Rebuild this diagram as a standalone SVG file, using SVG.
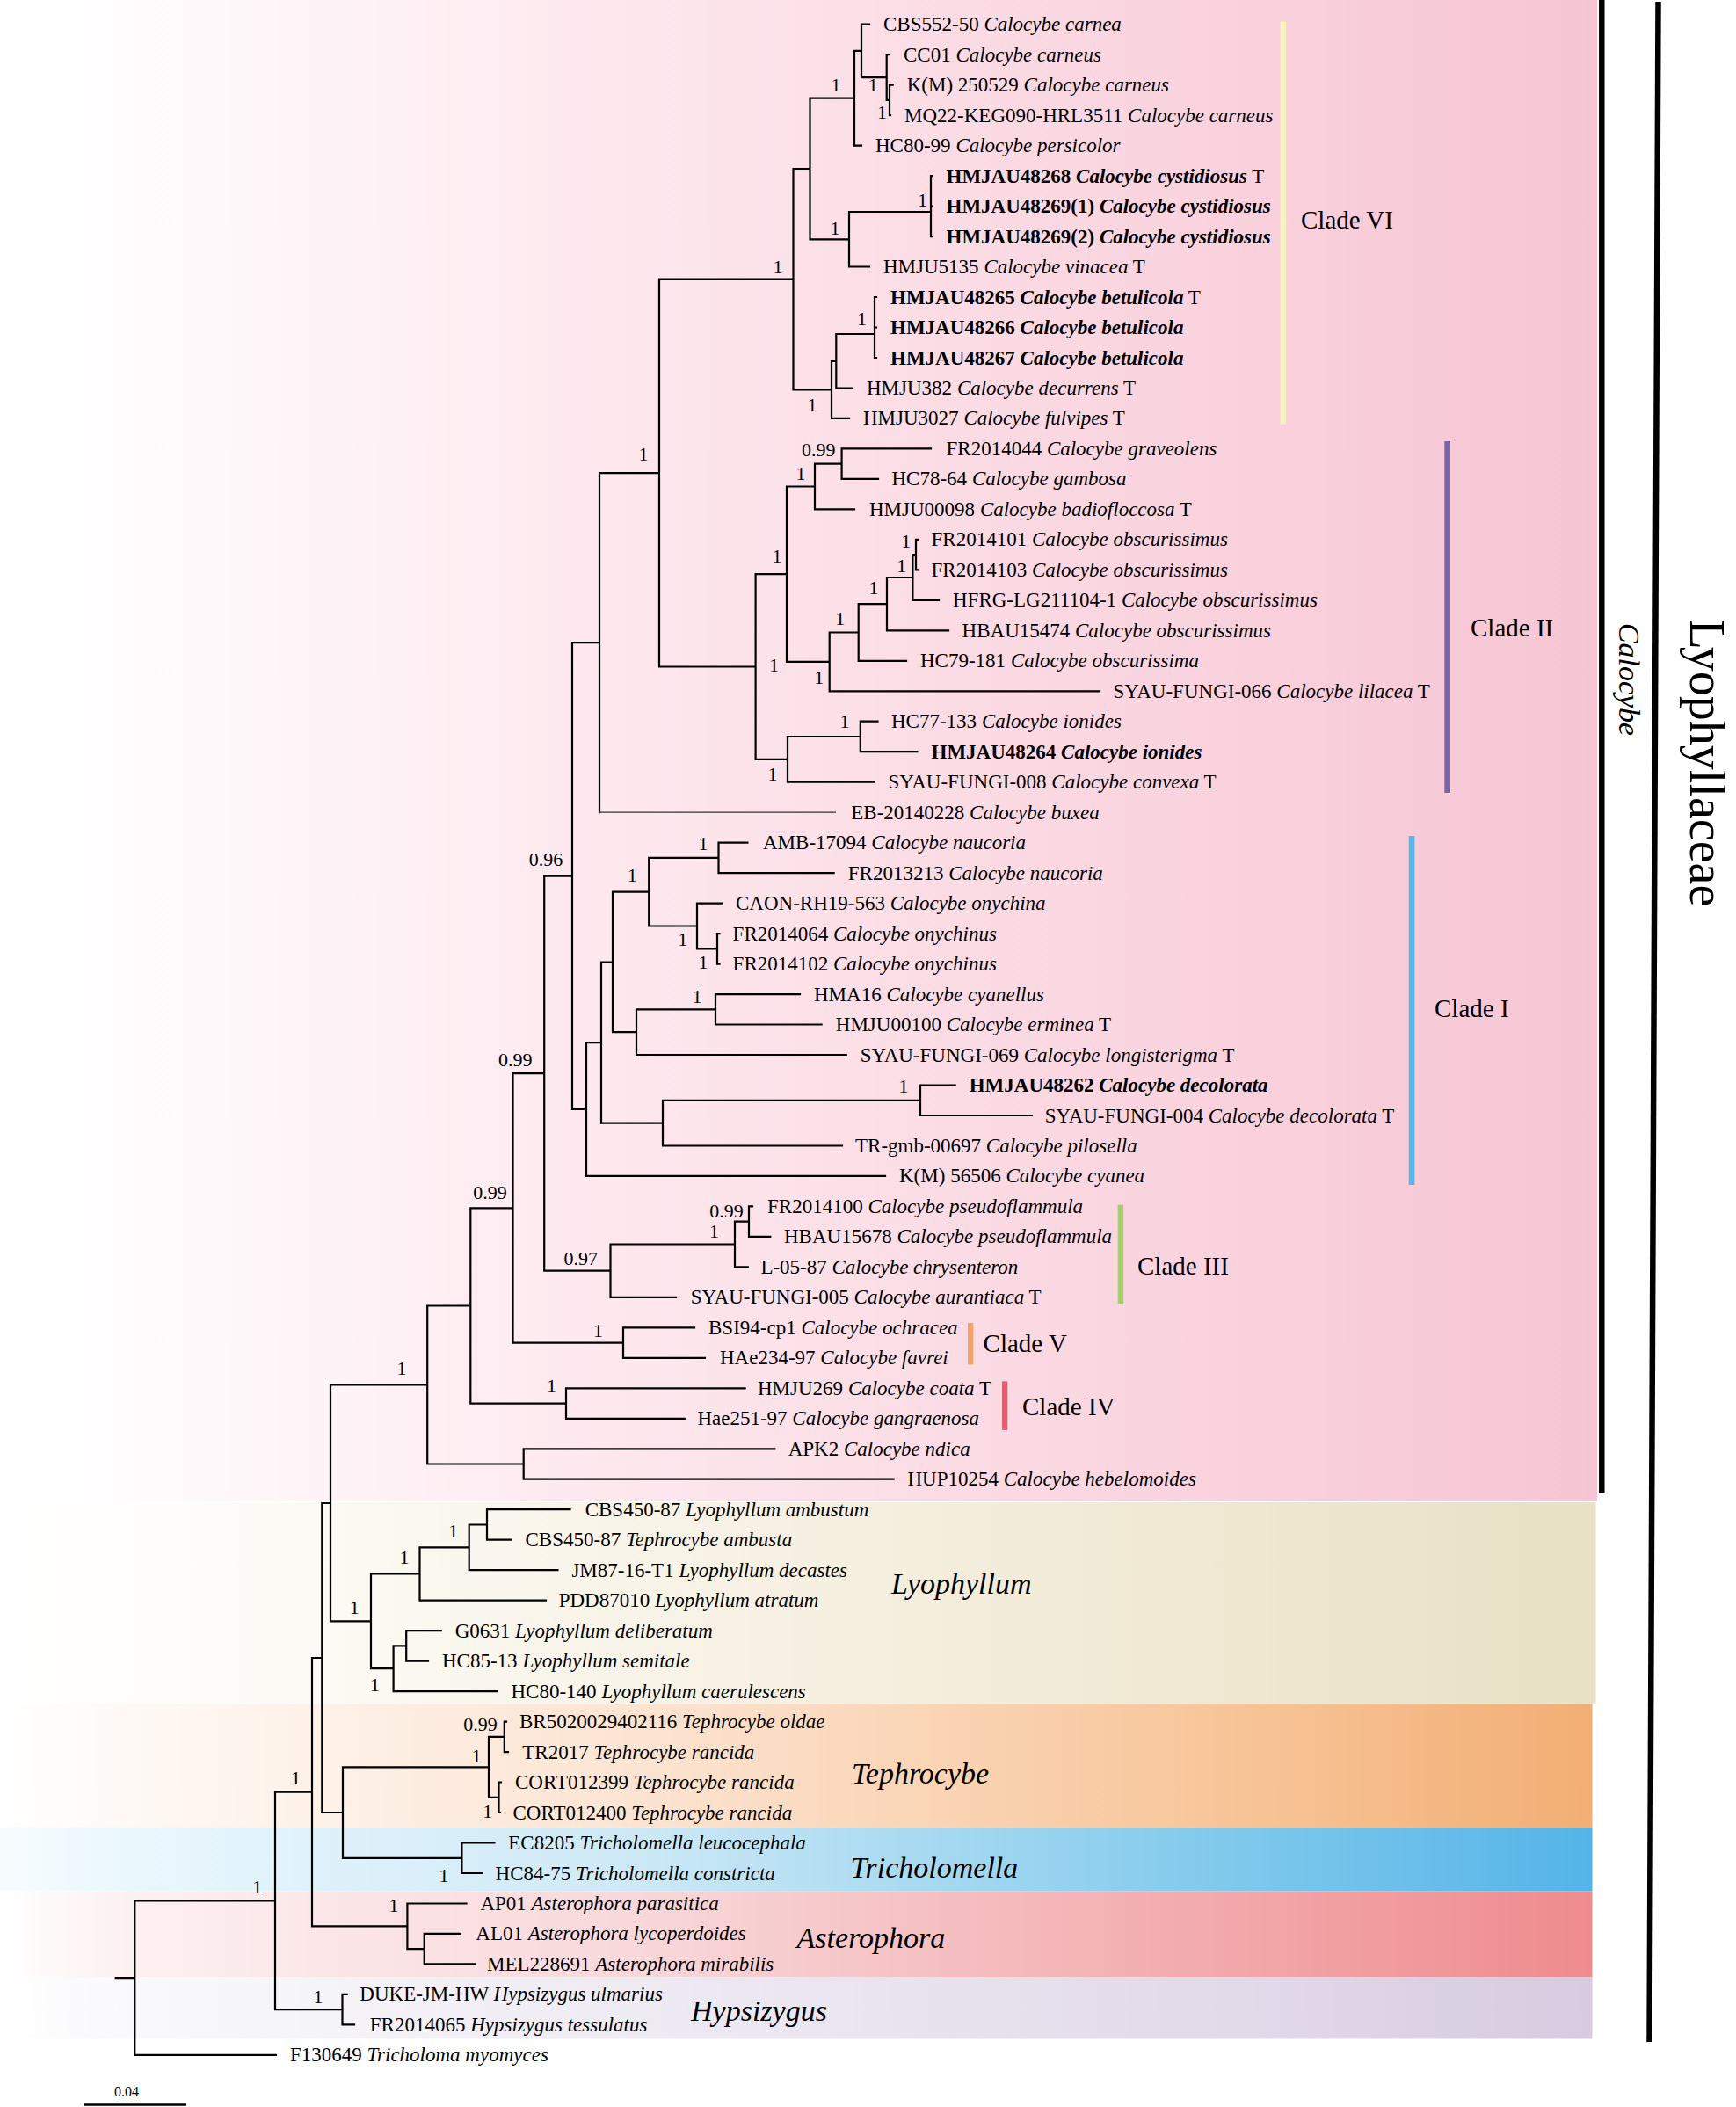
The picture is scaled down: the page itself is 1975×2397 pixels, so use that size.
<svg xmlns="http://www.w3.org/2000/svg" width="1975" height="2397" viewBox="0 0 1975 2397">
<style>
.t{font-family:"Liberation Serif","Times New Roman",serif;font-size:23px;fill:#000}
.i{font-style:italic}
.b{font-weight:bold}
.s{font-family:"Liberation Serif","Times New Roman",serif;font-size:22px;text-anchor:middle;fill:#000}
.cl{font-family:"Liberation Serif","Times New Roman",serif;font-size:29px;fill:#000}
.g{font-family:"Liberation Serif","Times New Roman",serif;font-size:34px;font-style:italic;fill:#000}
.br{fill:none;stroke:#000;stroke-width:2.2;stroke-linecap:square}
.thin{fill:none;stroke:#333;stroke-width:1.3}
</style>
<defs>
<linearGradient id="gCalo" gradientUnits="userSpaceOnUse" x1="0" y1="0" x2="1817" y2="0">
<stop offset="0" stop-color="#ffffff"/><stop offset="0.03" stop-color="#ffffff"/><stop offset="0.38" stop-color="#fde8ee"/><stop offset="0.8" stop-color="#f9d0dc"/><stop offset="1" stop-color="#f6c5d4"/>
</linearGradient>
<linearGradient id="gLyo" gradientUnits="userSpaceOnUse" x1="0" y1="0" x2="1816" y2="0">
<stop offset="0" stop-color="#ffffff"/><stop offset="0.1" stop-color="#fefdfa"/><stop offset="0.45" stop-color="#f7f2e5"/><stop offset="0.78" stop-color="#efe7d0"/><stop offset="1" stop-color="#e8e1c5"/>
</linearGradient>
<linearGradient id="gTeph" gradientUnits="userSpaceOnUse" x1="0" y1="0" x2="1812" y2="0">
<stop offset="0" stop-color="#ffffff"/><stop offset="0.08" stop-color="#fef9f5"/><stop offset="0.4" stop-color="#fce4d2"/><stop offset="0.78" stop-color="#f7c497"/><stop offset="1" stop-color="#f2ae74"/>
</linearGradient>
<linearGradient id="gTri" gradientUnits="userSpaceOnUse" x1="0" y1="0" x2="1812" y2="0">
<stop offset="0" stop-color="#f7fcfe"/><stop offset="0.08" stop-color="#eaf7fd"/><stop offset="0.4" stop-color="#cde9f6"/><stop offset="0.78" stop-color="#7ec8eb"/><stop offset="1" stop-color="#54b4e8"/>
</linearGradient>
<linearGradient id="gAst" gradientUnits="userSpaceOnUse" x1="0" y1="0" x2="1812" y2="0">
<stop offset="0" stop-color="#ffffff"/><stop offset="0.08" stop-color="#fdf0f1"/><stop offset="0.4" stop-color="#f8d8da"/><stop offset="0.78" stop-color="#f2a7a9"/><stop offset="1" stop-color="#ee8b8e"/>
</linearGradient>
<linearGradient id="gHyp" gradientUnits="userSpaceOnUse" x1="0" y1="0" x2="1812" y2="0">
<stop offset="0" stop-color="#ffffff"/><stop offset="0.06" stop-color="#fafafc"/><stop offset="0.4" stop-color="#eeebf3"/><stop offset="0.78" stop-color="#e2d9e9"/><stop offset="1" stop-color="#d6cbe0"/>
</linearGradient>
</defs>
<rect width="1975" height="2397" fill="#ffffff"/>
<g id="bands">
<rect x="0" y="0" width="1817" height="1708" fill="url(#gCalo)"/>
<rect x="0" y="1709" width="1815.5" height="229.5" fill="url(#gLyo)"/>
<rect x="0" y="1938.5" width="1811.5" height="141" fill="url(#gTeph)"/>
<rect x="0" y="2079.5" width="1811.5" height="72" fill="url(#gTri)"/>
<rect x="0" y="2151.5" width="1811.5" height="98" fill="url(#gAst)"/>
<rect x="0" y="2249.5" width="1811.5" height="70" fill="url(#gHyp)"/>
</g>
<g id="clade-bars">
<rect x="1456.5" y="24.5" width="6.5" height="458" fill="#f7f1bd"/>
<rect x="1643.3" y="502" width="6.7" height="400" fill="#7b64a8"/>
<rect x="1602.7" y="951" width="6.7" height="397" fill="#5ab6e8"/>
<rect x="1271.7" y="1370.7" width="6.5" height="113.3" fill="#a6cd6c"/>
<rect x="1101" y="1505" width="6.3" height="47.5" fill="#f1a46a"/>
<rect x="1140" y="1571.4" width="6.3" height="55.4" fill="#e65a72"/>
</g>
<g id="side-lines">
<line x1="1822.3" y1="0" x2="1822.3" y2="1699" stroke="#000" stroke-width="6.5"/>
<line x1="1886.5" y1="2" x2="1876.5" y2="2323" stroke="#000" stroke-width="6.5"/>
</g>
<g id="connectors">
<path class="br" d="
M1012,96.7V131.1 M1012,96.7H1015.7 M1012,131.1H1013
M1008.7,62.2V113.9 M1008.7,62.2H1012 M1008.7,113.9H1012
M980,27.7V88.1 M980,27.7H989 M980,88.1H1008.7
M972,57.9V165.6 M972,57.9H980 M972,165.6H980
M1059,200.1V269.1 M1059,200.1H1060 M1059,234.6H1060 M1059,269.1H1060
M966,241V303.5 M966,241H1059 M966,303.5H989
M921.5,111.7V272.3 M921.5,111.7H972 M921.5,272.3H966
M995,338V407 M995,338H997 M995,372.5H997 M995,407H997
M951.3,380V441.5 M951.3,380H995 M951.3,441.5H970
M946,410.8V475.9 M946,410.8H951.3 M946,475.9H966
M902.5,192V443.3 M902.5,192H921.5 M902.5,443.3H946
M957.6,510.4V544.9 M957.6,510.4H1059 M957.6,544.9H999
M927,527.7V579.4 M927,527.7H957.6 M927,579.4H972
M1042,613.9V648.3 M1042,613.9H1044 M1042,648.3H1044
M1038.4,631.1V682.8 M1038.4,631.1H1042 M1038.4,682.8H1068
M1009,657V717.3 M1009,657H1038.4 M1009,717.3H1079
M976.7,687.1V751.8 M976.7,687.1H1009 M976.7,751.8H1031
M943.7,719.5V786.3 M943.7,719.5H976.7 M943.7,786.3H1251
M895,553.5V752.9 M895,553.5H927 M895,752.9H943.7
M978.8,820.7V855.2 M978.8,820.7H998.5 M978.8,855.2H1043.4
M896,838V889.7 M896,838H978.8 M896,889.7H994
M859.6,653.2V863.8 M859.6,653.2H895 M859.6,863.8H896
M750,317.7V758.5 M750,317.7H902.5 M750,758.5H859.6
M682,538.1V924.2 M682,538.1H750
M817.5,958.7V993.1 M817.5,958.7H850.4 M817.5,993.1H948.6
M816,1062.1V1096.6 M816,1062.1H818.5 M816,1096.6H818.5
M793,1027.6V1079.4 M793,1027.6H821 M793,1079.4H816
M738.2,975.9V1053.5 M738.2,975.9H817.5 M738.2,1053.5H793
M814,1131.1V1165.5 M814,1131.1H910 M814,1165.5H934.6
M724,1148.3V1200 M724,1148.3H814 M724,1200H962.7
M697,1014.7V1174.2 M697,1014.7H738.2 M697,1174.2H724
M1047,1234.5V1269 M1047,1234.5H1086.7 M1047,1269H1174
M754,1251.8V1303.5 M754,1251.8H1047 M754,1303.5H958
M684,1094.5V1277.6 M684,1094.5H697 M684,1277.6H754
M667,1186.1V1337.9 M667,1186.1H684 M667,1337.9H1007
M651,731.2V1262 M651,731.2H682 M651,1262H667
M852,1372.4V1406.9 M852,1372.4H856 M852,1406.9H876.3
M836,1389.7V1441.4 M836,1389.7H852 M836,1441.4H850.8
M694.5,1415.5V1475.9 M694.5,1415.5H836 M694.5,1475.9H769
M619.2,996.6V1445.7 M619.2,996.6H651 M619.2,1445.7H694.5
M709,1510.3V1544.8 M709,1510.3H790 M709,1544.8H802
M583.5,1221.2V1527.6 M583.5,1221.2H619.2 M583.5,1527.6H709
M644,1579.3V1613.8 M644,1579.3H847.6 M644,1613.8H778.7
M535.3,1374.4V1596.6 M535.3,1374.4H583.5 M535.3,1596.6H644
M595.7,1648.3V1682.7 M595.7,1648.3H881.4 M595.7,1682.7H1016.6
M486.2,1485.5V1665.5 M486.2,1485.5H535.3 M486.2,1665.5H595.7
M554,1717.2V1751.7 M554,1717.2H648.5 M554,1751.7H581.5
M533.7,1734.5V1786.2 M533.7,1734.5H554 M533.7,1786.2H634.4
M477.5,1760.3V1820.7 M477.5,1760.3H533.7 M477.5,1820.7H621
M462.2,1855.1V1889.6 M462.2,1855.1H501.8 M462.2,1889.6H487
M447.6,1872.4V1924.1 M447.6,1872.4H462.2 M447.6,1924.1H565.6
M422,1790.5V1898.2 M422,1790.5H477.5 M422,1898.2H447.6
M376,1575.5V1844.4 M376,1575.5H486.2 M376,1844.4H422
M573.8,1958.6V1993.1 M573.8,1958.6H576 M573.8,1993.1H578
M567.5,2027.5V2062 M567.5,2027.5H570 M567.5,2062H569
M556,1975.9V2044.8 M556,1975.9H573.8 M556,2044.8H567.5
M525.4,2096.5V2131 M525.4,2096.5H562.4 M525.4,2131H548.3
M390,2010.3V2113.8 M390,2010.3H556 M390,2113.8H525.4
M366.3,1710V2062 M366.3,1710H376 M366.3,2062H390
M482.7,2199.9V2234.4 M482.7,2199.9H524 M482.7,2234.4H540
M463.4,2165.5V2217.2 M463.4,2165.5H530.5 M463.4,2217.2H482.7
M355,1886V2191.3 M355,1886H366.3 M355,2191.3H463.4
M389.5,2268.9V2303.4 M389.5,2268.9H394.6 M389.5,2303.4H403
M313,2038.7V2286.2 M313,2038.7H355 M313,2286.2H389.5
M153.3,2162.4V2337.9 M153.3,2162.4H313 M153.3,2337.9H314
M131.7,2250.2H153.3"/>
<path class="thin" d="M682,924.2H951"/>
</g>
<g id="support">
<text class="s" x="993.2" y="104.4">1</text>
<text class="s" x="1003.6" y="134.8">1</text>
<text class="s" x="951" y="104.4">1</text>
<text class="s" x="1049.5" y="234.5">1</text>
<text class="s" x="950" y="266.5">1</text>
<text class="s" x="885" y="311.2">1</text>
<text class="s" x="980.6" y="369.5">1</text>
<text class="s" x="924" y="468.2">1</text>
<text class="s" x="732" y="523.5">1</text>
<text class="s" x="931.2" y="518.5">0.99</text>
<text class="s" x="911" y="545.5">1</text>
<text class="s" x="884" y="639.5">1</text>
<text class="s" x="880.6" y="763.5">1</text>
<text class="s" x="1030.7" y="623.3">1</text>
<text class="s" x="1025.8" y="651">1</text>
<text class="s" x="994" y="675.5">1</text>
<text class="s" x="955.7" y="711.1">1</text>
<text class="s" x="931.8" y="778.3">1</text>
<text class="s" x="961" y="828.1">1</text>
<text class="s" x="879" y="888.2">1</text>
<text class="s" x="621" y="984.5">0.96</text>
<text class="s" x="800" y="966.5">1</text>
<text class="s" x="719.3" y="1002.9">1</text>
<text class="s" x="776.8" y="1076.1">1</text>
<text class="s" x="800" y="1101.5">1</text>
<text class="s" x="793" y="1141.3">1</text>
<text class="s" x="1028" y="1243.2">1</text>
<text class="s" x="586.3" y="1212.5">0.99</text>
<text class="s" x="557.4" y="1364">0.99</text>
<text class="s" x="826.5" y="1385.3">0.99</text>
<text class="s" x="812.5" y="1408.2">1</text>
<text class="s" x="660.7" y="1438.9">0.97</text>
<text class="s" x="680.5" y="1521.1">1</text>
<text class="s" x="627.5" y="1584.3">1</text>
<text class="s" x="457" y="1564.2">1</text>
<text class="s" x="403.3" y="1835.5">1</text>
<text class="s" x="460" y="1778.9">1</text>
<text class="s" x="515.8" y="1749">1</text>
<text class="s" x="426.5" y="1924">1</text>
<text class="s" x="546.4" y="1968.5">0.99</text>
<text class="s" x="542" y="2004.5">1</text>
<text class="s" x="554.7" y="2068.2">1</text>
<text class="s" x="505" y="2140.5">1</text>
<text class="s" x="448" y="2175">1</text>
<text class="s" x="336.5" y="2029.5">1</text>
<text class="s" x="362" y="2278.5">1</text>
<text class="s" x="292.7" y="2153.5">1</text>
</g>
<g id="taxa">
<g id="tx01"><text class="t" x="1005" y="35.2">CBS552-50 <tspan class="i">Calocybe carnea</tspan></text></g>
<g id="tx02"><text class="t" x="1028" y="69.7">CC01 <tspan class="i">Calocybe carneus</tspan></text></g>
<g id="tx03"><text class="t" x="1031.7" y="104.2">K(M) 250529 <tspan class="i">Calocybe carneus</tspan></text></g>
<g id="tx04"><text class="t" x="1029" y="138.6">MQ22-KEG090-HRL3511 <tspan class="i">Calocybe carneus</tspan></text></g>
<g id="tx05"><text class="t" x="996" y="173.1">HC80-99 <tspan class="i">Calocybe persicolor</tspan></text></g>
<g id="tx06"><text class="t" x="1076.5" y="207.6"><tspan class="b">HMJAU48268 <tspan class="i">Calocybe cystidiosus</tspan></tspan> T</text></g>
<g id="tx07"><text class="t b" x="1076.5" y="242.1">HMJAU48269(1) <tspan class="i">Calocybe cystidiosus</tspan></text></g>
<g id="tx08"><text class="t b" x="1076.5" y="276.6">HMJAU48269(2) <tspan class="i">Calocybe cystidiosus</tspan></text></g>
<g id="tx09"><text class="t" x="1005" y="311">HMJU5135 <tspan class="i">Calocybe vinacea</tspan> T</text></g>
<g id="tx10"><text class="t" x="1013" y="345.5"><tspan class="b">HMJAU48265 <tspan class="i">Calocybe betulicola</tspan></tspan> T</text></g>
<g id="tx11"><text class="t b" x="1013" y="380">HMJAU48266 <tspan class="i">Calocybe betulicola</tspan></text></g>
<g id="tx12"><text class="t b" x="1013" y="414.5">HMJAU48267 <tspan class="i">Calocybe betulicola</tspan></text></g>
<g id="tx13"><text class="t" x="986" y="449">HMJU382 <tspan class="i">Calocybe decurrens</tspan> T</text></g>
<g id="tx14"><text class="t" x="982" y="483.4">HMJU3027 <tspan class="i">Calocybe fulvipes</tspan> T</text></g>
<g id="tx15"><text class="t" x="1076.5" y="517.9">FR2014044 <tspan class="i">Calocybe graveolens</tspan></text></g>
<g id="tx16"><text class="t" x="1014.5" y="552.4">HC78-64 <tspan class="i">Calocybe gambosa</tspan></text></g>
<g id="tx17"><text class="t" x="989" y="586.9">HMJU00098 <tspan class="i">Calocybe badiofloccosa</tspan> T</text></g>
<g id="tx18"><text class="t" x="1059.5" y="621.4">FR2014101 <tspan class="i">Calocybe obscurissimus</tspan></text></g>
<g id="tx19"><text class="t" x="1059.5" y="655.8">FR2014103 <tspan class="i">Calocybe obscurissimus</tspan></text></g>
<g id="tx20"><text class="t" x="1084" y="690.3">HFRG-LG211104-1 <tspan class="i">Calocybe obscurissimus</tspan></text></g>
<g id="tx21"><text class="t" x="1094.6" y="724.8">HBAU15474 <tspan class="i">Calocybe obscurissimus</tspan></text></g>
<g id="tx22"><text class="t" x="1047" y="759.3">HC79-181 <tspan class="i">Calocybe obscurissima</tspan></text></g>
<g id="tx23"><text class="t" x="1266.4" y="793.8">SYAU-FUNGI-066 <tspan class="i">Calocybe lilacea</tspan> T</text></g>
<g id="tx24"><text class="t" x="1014" y="828.2">HC77-133 <tspan class="i">Calocybe ionides</tspan></text></g>
<g id="tx25"><text class="t b" x="1059.5" y="862.7">HMJAU48264 <tspan class="i">Calocybe ionides</tspan></text></g>
<g id="tx26"><text class="t" x="1010.4" y="897.2">SYAU-FUNGI-008 <tspan class="i">Calocybe convexa</tspan> T</text></g>
<g id="tx27"><text class="t" x="968.3" y="931.7">EB-20140228 <tspan class="i">Calocybe buxea</tspan></text></g>
<g id="tx28"><text class="t" x="868" y="966.2">AMB-17094 <tspan class="i">Calocybe naucoria</tspan></text></g>
<g id="tx29"><text class="t" x="964.8" y="1000.6">FR2013213 <tspan class="i">Calocybe naucoria</tspan></text></g>
<g id="tx30"><text class="t" x="837" y="1035.1">CAON-RH19-563 <tspan class="i">Calocybe onychina</tspan></text></g>
<g id="tx31"><text class="t" x="833.6" y="1069.6">FR2014064 <tspan class="i">Calocybe onychinus</tspan></text></g>
<g id="tx32"><text class="t" x="833.6" y="1104.1">FR2014102 <tspan class="i">Calocybe onychinus</tspan></text></g>
<g id="tx33"><text class="t" x="926" y="1138.6">HMA16 <tspan class="i">Calocybe cyanellus</tspan></text></g>
<g id="tx34"><text class="t" x="950.8" y="1173">HMJU00100 <tspan class="i">Calocybe erminea</tspan> T</text></g>
<g id="tx35"><text class="t" x="978.8" y="1207.5">SYAU-FUNGI-069 <tspan class="i">Calocybe longisterigma</tspan> T</text></g>
<g id="tx36"><text class="t b" x="1102.7" y="1242">HMJAU48262 <tspan class="i">Calocybe decolorata</tspan></text></g>
<g id="tx37"><text class="t" x="1188.8" y="1276.5">SYAU-FUNGI-004 <tspan class="i">Calocybe decolorata</tspan> T</text></g>
<g id="tx38"><text class="t" x="973" y="1311">TR-gmb-00697 <tspan class="i">Calocybe pilosella</tspan></text></g>
<g id="tx39"><text class="t" x="1023" y="1345.4">K(M) 56506 <tspan class="i">Calocybe cyanea</tspan></text></g>
<g id="tx40"><text class="t" x="873" y="1379.9">FR2014100 <tspan class="i">Calocybe pseudoflammula</tspan></text></g>
<g id="tx41"><text class="t" x="892" y="1414.4">HBAU15678 <tspan class="i">Calocybe pseudoflammula</tspan></text></g>
<g id="tx42"><text class="t" x="865.4" y="1448.9">L-05-87 <tspan class="i">Calocybe chrysenteron</tspan></text></g>
<g id="tx43"><text class="t" x="785.7" y="1483.4">SYAU-FUNGI-005 <tspan class="i">Calocybe aurantiaca</tspan> T</text></g>
<g id="tx44"><text class="t" x="806" y="1517.8">BSI94-cp1 <tspan class="i">Calocybe ochracea</tspan></text></g>
<g id="tx45"><text class="t" x="819" y="1552.3">HAe234-97 <tspan class="i">Calocybe favrei</tspan></text></g>
<g id="tx46"><text class="t" x="862" y="1586.8">HMJU269 <tspan class="i">Calocybe coata</tspan> T</text></g>
<g id="tx47"><text class="t" x="793.4" y="1621.3">Hae251-97 <tspan class="i">Calocybe gangraenosa</tspan></text></g>
<g id="tx48"><text class="t" x="896.7" y="1655.8">APK2 <tspan class="i">Calocybe ndica</tspan></text></g>
<g id="tx49"><text class="t" x="1032.5" y="1690.2">HUP10254 <tspan class="i">Calocybe hebelomoides</tspan></text></g>
<g id="tx50"><text class="t" x="665.7" y="1724.7">CBS450-87 <tspan class="i">Lyophyllum ambustum</tspan></text></g>
<g id="tx51"><text class="t" x="597.5" y="1759.2">CBS450-87 <tspan class="i">Tephrocybe ambusta</tspan></text></g>
<g id="tx52"><text class="t" x="650.4" y="1793.7">JM87-16-T1 <tspan class="i">Lyophyllum decastes</tspan></text></g>
<g id="tx53"><text class="t" x="635.7" y="1828.2">PDD87010 <tspan class="i">Lyophyllum atratum</tspan></text></g>
<g id="tx54"><text class="t" x="517.7" y="1862.6">G0631 <tspan class="i">Lyophyllum deliberatum</tspan></text></g>
<g id="tx55"><text class="t" x="503" y="1897.1">HC85-13 <tspan class="i">Lyophyllum semitale</tspan></text></g>
<g id="tx56"><text class="t" x="581.5" y="1931.6">HC80-140 <tspan class="i">Lyophyllum caerulescens</tspan></text></g>
<g id="tx57"><text class="t" x="591" y="1966.1">BR5020029402116 <tspan class="i">Tephrocybe oldae</tspan></text></g>
<g id="tx58"><text class="t" x="594.3" y="2000.6">TR2017 <tspan class="i">Tephrocybe rancida</tspan></text></g>
<g id="tx59"><text class="t" x="586" y="2035">CORT012399 <tspan class="i">Tephrocybe rancida</tspan></text></g>
<g id="tx60"><text class="t" x="583.5" y="2069.5">CORT012400 <tspan class="i">Tephrocybe rancida</tspan></text></g>
<g id="tx61"><text class="t" x="578.3" y="2104">EC8205 <tspan class="i">Tricholomella leucocephala</tspan></text></g>
<g id="tx62"><text class="t" x="563.6" y="2138.5">HC84-75 <tspan class="i">Tricholomella constricta</tspan></text></g>
<g id="tx63"><text class="t" x="546.4" y="2173">AP01 <tspan class="i">Asterophora parasitica</tspan></text></g>
<g id="tx64"><text class="t" x="541.3" y="2207.4">AL01 <tspan class="i">Asterophora lycoperdoides</tspan></text></g>
<g id="tx65"><text class="t" x="554" y="2241.9">MEL228691 <tspan class="i">Asterophora mirabilis</tspan></text></g>
<g id="tx66"><text class="t" x="409.3" y="2276.4">DUKE-JM-HW <tspan class="i">Hypsizygus ulmarius</tspan></text></g>
<g id="tx67"><text class="t" x="420.8" y="2310.9">FR2014065 <tspan class="i">Hypsizygus tessulatus</tspan></text></g>
<g id="tx68"><text class="t" x="330" y="2345.4">F130649 <tspan class="i">Tricholoma myomyces</tspan></text></g>
</g>
<g id="clade-labels">
<text class="cl" x="1480" y="259.6">Clade VI</text>
<text class="cl" x="1673" y="723.6">Clade II</text>
<text class="cl" x="1632" y="1156.6">Clade I</text>
<text class="cl" x="1294" y="1449.6">Clade III</text>
<text class="cl" x="1118.6" y="1537.6">Clade V</text>
<text class="cl" x="1163" y="1609.6">Clade IV</text>
</g>
<g id="genus-labels">
<text class="g" x="1014" y="1813">Lyophyllum</text>
<text class="g" x="969" y="2029">Tephrocybe</text>
<text class="g" x="967.5" y="2136">Tricholomella</text>
<text class="g" x="906.6" y="2216">Asterophora</text>
<text class="g" x="786" y="2299">Hypsizygus</text>
</g>
<g id="rank-labels">
<text x="0" y="0" transform="translate(1842,773) rotate(90)" font-family="Liberation Serif, Times New Roman, serif" font-size="34" font-style="italic" text-anchor="middle">Calocybe</text>
<text x="0" y="0" transform="translate(1923,868) rotate(90)" font-family="Liberation Serif, Times New Roman, serif" font-size="56" text-anchor="middle">Lyophyllaceae</text>
</g>
<g id="scale-bar">
<line x1="95" y1="2394.5" x2="212" y2="2394.5" stroke="#000" stroke-width="2.5"/>
<text x="144" y="2384.5" font-family="Liberation Serif, Times New Roman, serif" font-size="16" text-anchor="middle">0.04</text>
</g>
</svg>
